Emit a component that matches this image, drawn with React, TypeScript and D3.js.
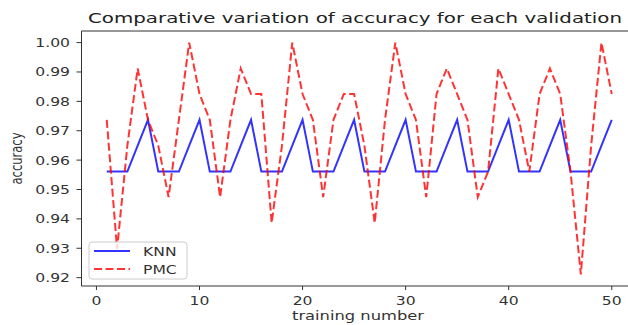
import React from "react";
import * as d3 from "d3";

// accuracy per training run (test set of 114 samples)
const runs = d3.range(1, 51);
const knnAcc = [
  0.9561, 0.9561, 0.9561, 0.9649, 0.9737, 0.9561, 0.9561, 0.9561, 0.9649, 0.9737,
  0.9561, 0.9561, 0.9561, 0.9649, 0.9737, 0.9561, 0.9561, 0.9561, 0.9649, 0.9737,
  0.9561, 0.9561, 0.9561, 0.9649, 0.9737, 0.9561, 0.9561, 0.9561, 0.9649, 0.9737,
  0.9561, 0.9561, 0.9561, 0.9649, 0.9737, 0.9561, 0.9561, 0.9561, 0.9649, 0.9737,
  0.9561, 0.9561, 0.9561, 0.9649, 0.9737, 0.9561, 0.9561, 0.9561, 0.9649, 0.9737,
];
const pmcAcc = [
  0.9737, 0.9298, 0.9649, 0.9912, 0.9737, 0.9649, 0.9474, 0.9737, 1.0, 0.9825,
  0.9737, 0.9474, 0.9737, 0.9912, 0.9825, 0.9825, 0.9386, 0.9649, 1.0, 0.9825,
  0.9737, 0.9474, 0.9737, 0.9825, 0.9825, 0.9649, 0.9386, 0.9737, 1.0, 0.9825,
  0.9737, 0.9474, 0.9825, 0.9912, 0.9825, 0.9737, 0.9474, 0.9561, 0.9912, 0.9825,
  0.9737, 0.9561, 0.9825, 0.9912, 0.9825, 0.9561, 0.9211, 0.9649, 1.0, 0.9825,
];
const xTicks = [0, 10, 20, 30, 40, 50];
const yTicks = [0.92, 0.93, 0.94, 0.95, 0.96, 0.97, 0.98, 0.99, 1.0];
const seriesNames = ["KNN", "PMC"];

const W = 628, H = 325;
const left = 81.5, right = 637, top = 31, bottom = 286;
const font = "DejaVu Sans";
const sx = 1.3; // the picture is stretched sideways

function Txt({ x, y, children, anchor = "middle", size = 12 }: any) {
  return (
    <g transform={`translate(${x},${y}) scale(${sx},1)`}>
      <text textAnchor={anchor} fontFamily={font} fontSize={size} fill="#333">
        {children}
      </text>
    </g>
  );
}

export default function App() {
  const all = knnAcc.concat(pmcAcc);
  const lo = d3.min(all)!, hi = d3.max(all)!;
  const pad = (hi - lo) * 0.05;
  const x = d3.scaleLinear().domain([1 - 49 * 0.05, 50 + 49 * 0.05]).range([left, right]);
  const y = d3.scaleLinear().domain([lo - pad, hi + pad]).range([bottom, top]);

  const line = d3.line<number>()
    .x((d, i) => x(runs[i]))
    .y((d) => y(d));

  return (
    <svg width={W} height={H} style={{ position: "absolute", left: 0, top: 0, background: "#fff" }}>
      <text x={355} y={23} textAnchor="middle" fontFamily={font} fontSize={14} fill="#222"
        textLength={534} lengthAdjust="spacingAndGlyphs">
        Comparative variation of accuracy for each validation
      </text>

      <path d={line(knnAcc)!} fill="none" stroke="#0000ff" strokeOpacity={0.8} strokeWidth={2} />
      <path d={line(pmcAcc)!} fill="none" stroke="#ff0000" strokeOpacity={0.8} strokeWidth={2}
        strokeDasharray="8,3.5" />

      {/* spines */}
      <line x1={left} x2={right} y1={top} y2={top} stroke="#333" />
      <line x1={left} x2={right} y1={bottom} y2={bottom} stroke="#333" />
      <line x1={left} x2={left} y1={top} y2={bottom} stroke="#333" />

      {yTicks.map((t) => (
        <g key={t}>
          <line x1={left - 5} x2={left} y1={y(t)} y2={y(t)} stroke="#333" />
          <Txt x={70} y={y(t) + 4.5} anchor="end">{t.toFixed(2)}</Txt>
        </g>
      ))}
      {xTicks.map((t) => (
        <g key={t}>
          <line x1={x(t)} x2={x(t)} y1={bottom} y2={bottom + 4} stroke="#333" />
          <Txt x={x(t)} y={305}>{t}</Txt>
        </g>
      ))}

      <g transform={`translate(358,320)`}>
        <text textAnchor="middle" fontFamily={font} fontSize={12} fill="#333"
          textLength={132} lengthAdjust="spacingAndGlyphs">training number</text>
      </g>
      <g transform={`translate(22,158.5) rotate(-90) scale(1,1.3)`}>
        <text textAnchor="middle" fontFamily={font} fontSize={12} fill="#333"
          textLength={52} lengthAdjust="spacingAndGlyphs">accuracy</text>
      </g>

      {/* legend */}
      <rect x={89} y={242} width={98} height={37} rx={3} fill="#fff" fillOpacity={0.8}
        stroke="#ccc" />
      {seriesNames.map((s, i) => (
        <g key={s}>
          <line x1={94} x2={130} y1={251 + i * 18} y2={251 + i * 18}
            stroke={i === 0 ? "#0000ff" : "#ff0000"} strokeOpacity={0.8} strokeWidth={2}
            strokeDasharray={i === 0 ? undefined : "8,3.5"} />
          <Txt x={143} y={255.5 + i * 18} anchor="start">{s}</Txt>
        </g>
      ))}
    </svg>
  );
}
